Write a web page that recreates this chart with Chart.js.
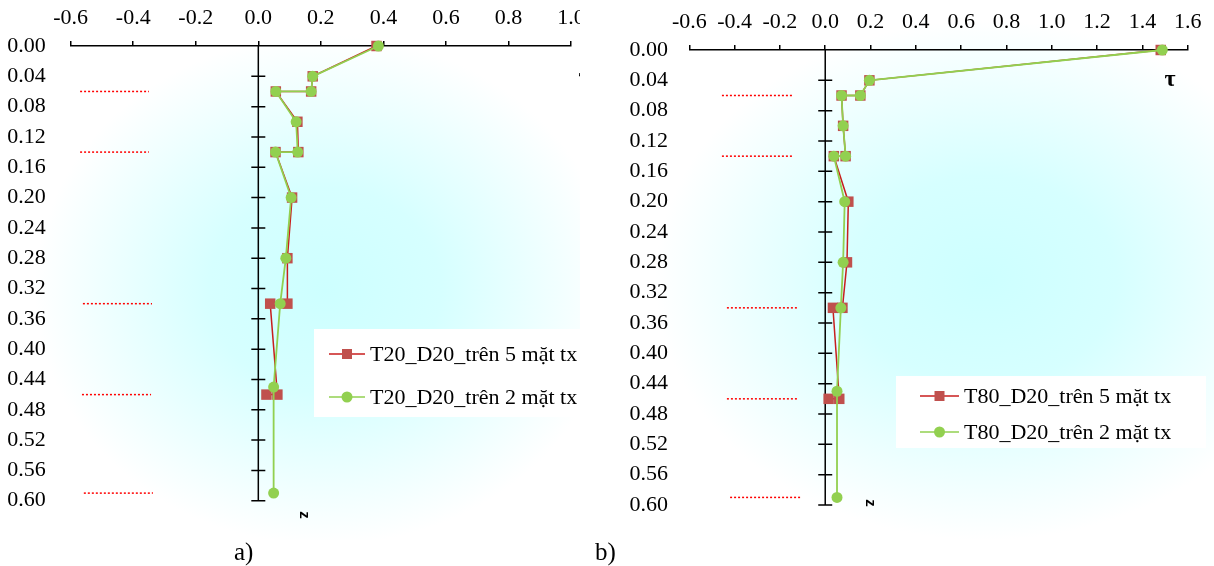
<!DOCTYPE html>
<html>
<head>
<meta charset="utf-8">
<script src="https://cdn.jsdelivr.net/npm/chart.js@4/dist/chart.umd.min.js"></script>
<style>
  body { margin: 0; background: #fff; width: 1214px; height: 566px; overflow: hidden; position: relative; font-family: "Liberation Serif", serif; }
  .wrap { position: absolute; top: 0; overflow: hidden; }
  .cap { position: absolute; font-size: 25px; line-height: 1; }
</style>
</head>
<body>
<div class="wrap" style="left:0;width:580px;height:540px"><canvas id="ca" width="640" height="540"></canvas></div>
<div class="wrap" style="left:600px;width:614px;height:540px"><canvas id="cb" width="614" height="540"></canvas></div>
<div class="cap" style="left:234px;top:539px">a)</div>
<div class="cap" style="left:595px;top:539px">b)</div>
<script>
// tick labels
const zTicks = [0, 0.04, 0.08, 0.12, 0.16, 0.20, 0.24, 0.28, 0.32, 0.36, 0.40, 0.44, 0.48, 0.52, 0.56, 0.60];
const tauTicksA = [-0.6, -0.4, -0.2, 0, 0.2, 0.4, 0.6, 0.8, 1.0];
const tauTicksB = [-0.6, -0.4, -0.2, 0, 0.2, 0.4, 0.6, 0.8, 1.0, 1.2, 1.4, 1.6];

// a) T20_D20
const zA5   = [0, 0.04, 0.06, 0.06, 0.10, 0.14, 0.14, 0.20, 0.28, 0.34, 0.34, 0.46, 0.46];
const tauA5 = [0.378, 0.174, 0.169, 0.056, 0.125, 0.128, 0.055, 0.108, 0.093, 0.093, 0.038, 0.061, 0.026];
const zA2   = [0, 0.04, 0.06, 0.06, 0.10, 0.14, 0.14, 0.20, 0.28, 0.34, 0.45, 0.59];
const tauA2 = [0.384, 0.174, 0.169, 0.056, 0.121, 0.126, 0.055, 0.105, 0.088, 0.070, 0.049, 0.049];

// b) T80_D20
const zB5   = [0, 0.04, 0.06, 0.06, 0.10, 0.14, 0.14, 0.20, 0.28, 0.34, 0.34, 0.46, 0.46];
const tauB5 = [1.481, 0.195, 0.155, 0.072, 0.079, 0.090, 0.038, 0.102, 0.096, 0.076, 0.034, 0.062, 0.015];
const zB2   = [0, 0.04, 0.06, 0.06, 0.10, 0.14, 0.14, 0.20, 0.28, 0.34, 0.45, 0.59];
const tauB2 = [1.488, 0.195, 0.155, 0.072, 0.079, 0.090, 0.038, 0.086, 0.079, 0.069, 0.052, 0.052];

// layer boundaries (red dotted marks on the left)
const layerZ = [0.06, 0.14, 0.34, 0.46, 0.59];
const layerFromA = [-0.570, -0.570, -0.561, -0.564, -0.558];
const layerToA   = [-0.350, -0.350, -0.340, -0.343, -0.337];
const layerFromB = [-0.456, -0.456, -0.434, -0.434, -0.420];
const layerToB   = [-0.147, -0.147, -0.125, -0.125, -0.110];

const RED = 'rgb(192,80,77)', REDLINE = 'rgb(200,30,30)', GREEN = 'rgb(146,208,80)';
Chart.defaults.font.family = '"Liberation Serif", serif';
Chart.defaults.font.size = 22;
Chart.defaults.color = '#000';

const pts = (xs, ys) => xs.map((x, i) => ({ x: x, y: ys[i] }));

// soft cyan glow behind the plot
const glow = {
  id: 'glow',
  beforeDraw(chart, args, o) {
    const ctx = chart.ctx;
    ctx.save();
    ctx.translate(o.cx, o.cy);
    ctx.scale(o.rx / o.ry, 1);
    const g = ctx.createRadialGradient(0, 0, 0, 0, 0, o.ry);
    g.addColorStop(0, 'rgb(205,255,255)');
    g.addColorStop(0.4, 'rgb(214,255,255)');
    g.addColorStop(0.75, 'rgb(238,255,255)');
    g.addColorStop(1, 'rgb(255,255,255)');
    ctx.fillStyle = g;
    ctx.fillRect(-3000, -3000, 6000, 6000);
    ctx.restore();
  }
};

// vertical axis through tau = 0 with crossing ticks
const zeroAxis = {
  id: 'zeroAxis',
  beforeDatasetsDraw(chart) {
    const ctx = chart.ctx, x = chart.scales.x.getPixelForValue(0), y = chart.scales.y;
    ctx.save();
    ctx.strokeStyle = '#000';
    ctx.lineWidth = 1.5;
    ctx.beginPath();
    ctx.moveTo(x, y.getPixelForValue(0));
    ctx.lineTo(x, y.getPixelForValue(0.6));
    zTicks.slice(1).forEach(v => {
      const py = y.getPixelForValue(v);
      ctx.moveTo(x - 7, py);
      ctx.lineTo(x + 7, py);
    });
    ctx.stroke();
    ctx.restore();
  }
};

// legend box and axis names
const extras = {
  id: 'extras',
  afterDraw(chart, args, o) {
    const ctx = chart.ctx, L = o.legend;
    ctx.save();
    ctx.fillStyle = '#fff';
    ctx.fillRect(L.x, L.y, L.w, L.h);
    L.rows.forEach(r => {
      ctx.strokeStyle = r.line;
      ctx.lineWidth = 1.5;
      ctx.beginPath();
      ctx.moveTo(L.lx0, r.y);
      ctx.lineTo(L.lx1, r.y);
      ctx.stroke();
      const mx = (L.lx0 + L.lx1) / 2;
      ctx.fillStyle = r.fill;
      ctx.beginPath();
      if (r.shape === 'rect') ctx.rect(mx - 5, r.y - 5, 10, 10);
      else ctx.arc(mx, r.y, 5.5, 0, Math.PI * 2);
      ctx.fill();
      ctx.fillStyle = '#000';
      ctx.font = '22px "Liberation Serif"';
      ctx.textBaseline = 'middle';
      ctx.textAlign = 'left';
      ctx.fillText(r.text, L.tx, r.y + 1);
    });
    o.labels.forEach(t => {
      ctx.save();
      ctx.translate(t.x, t.y);
      ctx.rotate(t.rot || 0);
      ctx.font = t.font;
      ctx.fillStyle = '#000';
      ctx.textAlign = 'center';
      ctx.textBaseline = 'middle';
      ctx.fillText(t.text, 0, 0);
      ctx.restore();
    });
    ctx.restore();
  }
};

function makeChart(id, cfg) {
  const series = [
    { label: cfg.name + '_trên 2 mặt tx', data: pts(cfg.tau2, cfg.z2), showLine: true, borderColor: GREEN, borderWidth: 1.8,
      pointStyle: 'circle', pointRadius: 5.5, pointBackgroundColor: GREEN, pointBorderWidth: 0, order: 1, clip: false },
    { label: cfg.name + '_trên 5 mặt tx', data: pts(cfg.tau5, cfg.z5), showLine: true, borderColor: REDLINE, borderWidth: 1.5,
      pointStyle: 'rect', pointRadius: 7.4, pointBackgroundColor: RED, pointBorderWidth: 0, order: 2, clip: false }
  ];
  layerZ.forEach((z, i) => series.push({
    data: [{ x: cfg.layerFrom[i], y: z }, { x: cfg.layerTo[i], y: z }], showLine: true,
    borderColor: 'rgb(255,0,0)', borderWidth: 1.5, borderDash: [2, 2], pointRadius: 0, order: 3, clip: false
  }));

  return new Chart(document.getElementById(id), {
    type: 'scatter',
    data: { datasets: series },
    options: {
      responsive: false,
      animation: false,
      layout: { padding: cfg.pad },
      plugins: {
        legend: { display: false },
        tooltip: { enabled: false },
        glow: cfg.glow,
        extras: { legend: cfg.legend, labels: cfg.labels }
      },
      scales: {
        x: {
          type: 'linear', position: 'top', min: cfg.tauTicks[0], max: cfg.tauTicks[cfg.tauTicks.length - 1],
          afterBuildTicks: s => { s.ticks = cfg.tauTicks.map(v => ({ value: v })); },
          ticks: { callback: v => v.toFixed(1), padding: cfg.xPad, maxRotation: 0, autoSkip: false },
          grid: { drawOnChartArea: false, tickLength: 5, color: '#000', lineWidth: 1.5 },
          border: { color: '#000', width: 1.5 },
          afterFit: s => { s.height = cfg.top; s.paddingLeft = 0; s.paddingRight = 0; }
        },
        y: {
          type: 'linear', position: 'left', reverse: true, min: 0, max: 0.6,
          afterBuildTicks: s => { s.ticks = zTicks.map(v => ({ value: v })); },
          ticks: { callback: v => v.toFixed(2), padding: cfg.yPad, autoSkip: false },
          grid: { display: false, drawTicks: false },
          border: { display: false },
          afterFit: s => { s.width = cfg.left; s.paddingTop = 0; s.paddingBottom = 0; }
        }
      }
    },
    plugins: [glow, zeroAxis, extras]
  });
}

makeChart('ca', {
  name: 'T20_D20', tau5: tauA5, z5: zA5, tau2: tauA2, z2: zA2, tauTicks: tauTicksA,
  layerFrom: layerFromA, layerTo: layerToA,
  left: 70.7, top: 46, pad: { left: 0, top: 0, right: 69, bottom: 39.3 }, xPad: 9.8, yPad: 25,
  glow: { cx: 325, cy: 290, rx: 290, ry: 255 },
  legend: { x: 314, y: 329, w: 330, h: 88, lx0: 329, lx1: 365, tx: 370,
    rows: [
      { y: 354, line: REDLINE, fill: RED, shape: 'rect', text: 'T20_D20_trên 5 mặt tx' },
      { y: 397, line: GREEN, fill: GREEN, shape: 'circle', text: 'T20_D20_trên 2 mặt tx' }
    ] },
  labels: [
    { text: 'τ', x: 584, y: 78, font: 'bold 24px "Liberation Serif"' },
    { text: 'z', x: 304, y: 515, rot: Math.PI / 2, font: 'bold 15px "Liberation Sans"' }
  ]
});

makeChart('cb', {
  name: 'T80_D20', tau5: tauB5, z5: zB5, tau2: tauB2, z2: zB2, tauTicks: tauTicksB,
  layerFrom: layerFromB, layerTo: layerToB,
  left: 89.3, top: 50, pad: { left: 0, top: 0, right: 26.3, bottom: 35 }, xPad: 9.3, yPad: 21.3,
  glow: { cx: 385, cy: 280, rx: 330, ry: 260 },
  legend: { x: 296, y: 376, w: 310, h: 72, lx0: 320, lx1: 359, tx: 364,
    rows: [
      { y: 396, line: REDLINE, fill: RED, shape: 'rect', text: 'T80_D20_trên 5 mặt tx' },
      { y: 432, line: GREEN, fill: GREEN, shape: 'circle', text: 'T80_D20_trên 2 mặt tx' }
    ] },
  labels: [
    { text: 'τ', x: 570, y: 80, font: 'bold 24px "Liberation Serif"' },
    { text: 'z', x: 270, y: 503, rot: Math.PI / 2, font: 'bold 15px "Liberation Sans"' }
  ]
});
</script>
</body>
</html>
